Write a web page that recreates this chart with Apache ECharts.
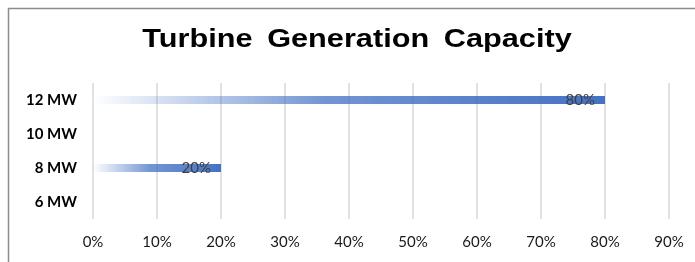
<!DOCTYPE html>
<html>
<head>
<meta charset="utf-8">
<script src="https://cdn.jsdelivr.net/npm/echarts@6/dist/echarts.min.js"></script>
<style>
  html, body { margin: 0; padding: 0; background: #fff; }
  #chart { width: 695px; height: 262px; }
</style>
</head>
<body>
<div id="chart"></div>
<script>
// 数据
var categories = ['6 MW', '8 MW', '10 MW', '12 MW'];
var capacity = [null, 20, null, 80];
var xTicks = [0, 10, 20, 30, 40, 50, 60, 70, 80, 90];
var titleText = 'Turbine\u2009 Generation\u2009 Capacity';

var myChart = echarts.init(document.getElementById('chart'));

var option = {
    animation: false,
    graphic: [
        // 外框
        {
            type: 'rect',
            shape: { x: 8.5, y: 8.5, width: 720, height: 300 },
            style: { fill: null, stroke: '#8c8c8c', lineWidth: 1.5 },
            silent: true
        },
        // 标题（横向拉宽）
        {
            type: 'text',
            x: 357,
            y: 40,
            scaleX: 1.18,
            style: {
                text: titleText,
                font: 'bold 26px "Liberation Sans"',
                fill: '#000',
                align: 'center',
                verticalAlign: 'middle'
            },
            silent: true
        }
    ],
    grid: {
        left: 93,
        right: 26,
        top: 83,
        bottom: 43
    },
    xAxis: {
        type: 'value',
        min: 0,
        max: xTicks[xTicks.length - 1],
        interval: 10,
        axisLine: { show: false },
        axisTick: { show: false },
        splitLine: { lineStyle: { color: '#d9d9d9', width: 1.5 } },
        axisLabel: {
            margin: 16,
            fontFamily: 'Lato',
            fontSize: 15,
            color: '#1a1a1a',
            formatter: '{value}%'
        }
    },
    yAxis: {
        type: 'category',
        data: categories,
        axisLine: { show: false },
        axisTick: { show: false },
        axisLabel: {
            margin: 16,
            fontFamily: 'Lato',
            fontWeight: 'bold',
            fontSize: 15,
            color: '#000'
        }
    },
    series: [{
        type: 'bar',
        data: capacity,
        barWidth: 8,
        itemStyle: {
            color: new echarts.graphic.LinearGradient(0, 0, 1, 0, [
                { offset: 0, color: 'rgba(68,114,196,0)' },
                { offset: 0.45, color: 'rgba(68,114,196,0.75)' },
                { offset: 1, color: '#4472C4' }
            ])
        },
        label: {
            show: true,
            position: 'insideRight',
            distance: 10,
            fontFamily: 'Lato',
            fontSize: 15,
            color: '#404040',
            formatter: '{c}%'
        }
    }]
};

myChart.setOption(option);
</script>
</body>
</html>
